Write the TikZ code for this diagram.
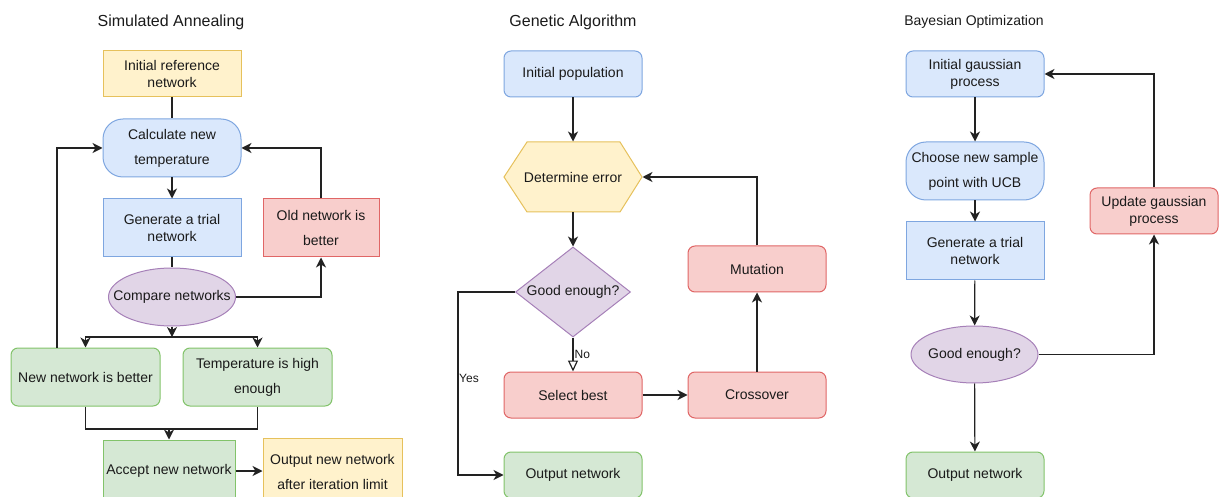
\documentclass[tikz,border=0pt]{standalone}
\usepackage{fontspec}
\setmainfont{Liberation Sans}
\usetikzlibrary{shapes.geometric,arrows.meta}
\definecolor{bluef}{HTML}{DAE8FC}\definecolor{blued}{HTML}{7EA6E0}
\definecolor{yelf}{HTML}{FFF2CC}\definecolor{yeld}{HTML}{E6C15C}
\definecolor{redf}{HTML}{F8CECC}\definecolor{redd}{HTML}{E06666}
\definecolor{grnf}{HTML}{D5E8D4}\definecolor{grnd}{HTML}{82C36A}
\definecolor{purf}{HTML}{E1D5E7}\definecolor{purd}{HTML}{A680B8}
\definecolor{txt}{HTML}{1A1A1A}
\definecolor{ln}{HTML}{222222}
\begin{document}
\begin{tikzpicture}[x=1pt,y=-1pt,
  base/.style={draw, line width=1pt, inner sep=0pt, align=center, text=txt,
    font=\fontsize{14}{17}\selectfont},
  wide/.style={font=\fontsize{14}{25}\selectfont},
  sz/.style 2 args={minimum width=#1, minimum height=#2},
  bluebox/.style={base, fill=bluef, draw=blued},
  yelbox/.style={base, fill=yelf, draw=yeld},
  redbox/.style={base, fill=redf, draw=redd},
  grnbox/.style={base, fill=grnf, draw=grnd},
  purbox/.style={base, fill=purf, draw=purd},
  rr/.style={rounded corners=7pt},
  rrbig/.style={rounded corners=20pt},
  ctext/.style={font=\fontsize{14}{17}\selectfont, text=txt, inner sep=0pt},
  title/.style={font=\fontsize{16}{19}\selectfont, text=txt, inner sep=0pt},
  small/.style={font=\fontsize{12}{14}\selectfont, text=txt, inner sep=0pt},
  conn/.style={draw=ln, line width=1.2pt},
  arr/.style={conn, -{Stealth[length=10pt,width=10pt,inset=3pt]}},
  openarr/.style={conn, -{Triangle[open,length=11pt,width=10pt]}}
]
\clip (0,0) rectangle (1219,497);
\useasboundingbox (0,0) rectangle (1219,497);

% ---------- Simulated Annealing ----------
\node[title] (t1) at (171,22) {Simulated Annealing};
\node[yelbox, sz={138}{46}] (sa1) at (172,74) {Initial reference\\network};
\node[bluebox, rrbig, wide, sz={138}{58}] (sa2) at (172,148) {Calculate new\\temperature};
\node[bluebox, sz={138}{58}] (sa3) at (172,228) {Generate a trial\\network};
\node[redbox, wide, sz={116}{58}] (sa5) at (321,228) {Old network is\\better};
\node[purbox, ellipse, sz={127}{58}, label={[ctext]center:Compare networks}] (sa4) at (172,297) {};
\node[grnbox, rr, sz={149}{58}] (sa6) at (85.5,377) {New network is better};
\node[grnbox, rr, wide, sz={149}{58}] (sa7) at (257.5,377) {Temperature is high\\enough};
\node[grnbox, sz={132}{62}] (sa8) at (169,471) {Accept new network};
\node[yelbox, wide, sz={139}{67}] (sa9) at (332.5,471.5) {Output new network\\after iteration limit};

\draw[conn] (sa1) -- (sa2);
\draw[arr] (sa2) -- (sa3);
\draw[conn] (sa3) -- (sa4);
\draw[arr] (sa4.east) -| (sa5.south);
\draw[arr] (sa5.north) |- (sa2.east);
\coordinate (j1) at (172,337);
\draw[arr] (sa4.south) -- (j1);
\draw[arr] (j1) -| (sa6.north);
\draw[arr] (j1) -| (sa7.north);
\draw[arr] ([xshift=-28.5pt]sa6.north) |- (sa2.west);
\coordinate (j2) at (169,429);
\draw[conn] (sa6.south) |- (j2) -| (sa7.south);
\draw[arr] (j2) -- (sa8.north);
\draw[arr] (sa8.east) -- (sa8.east -| sa9.west);

% ---------- Genetic Algorithm ----------
\node[title] (t2) at (573,22) {Genetic Algorithm};
\node[bluebox, rr, sz={138}{46}] (ga1) at (573,74) {Initial population};
\filldraw[fill=yelf, draw=yeld, line width=1pt] (504,177) -- (527,142) -- (620,142) -- (642,177) -- (620,212) -- (527,212) -- cycle;
\node[base, draw=none, sz={138}{70}] (ga2) at (573,177) {Determine error};
\node[purbox, diamond, sz={115}{90}, label={[ctext]center:Good enough?}] (ga3) at (573,292) {};
\node[redbox, rr, sz={138}{46}] (ga4) at (573,395) {Select best};
\node[redbox, rr, sz={138}{46}] (ga5) at (757,395) {Crossover};
\node[redbox, rr, sz={138}{46}] (ga6) at (757,269) {Mutation};
\node[grnbox, rr, sz={138}{46}] (ga7) at (573,475) {Output network};

\draw[arr] (ga1) -- (ga2.north);
\draw[arr] (ga2.south) -- (ga3.north);
\draw[openarr] (ga3.south) -- (ga4.north) node[small, pos=0.5, right=1pt] {No};
\draw[arr] (ga4) -- (ga5);
\draw[arr] (ga5) -- (ga6);
\draw[arr] (ga6.north) |- (ga2.east);
\coordinate (y1) at (458,292);
\draw[arr] (ga3.west) -- (y1) |- (ga7.west);
\node[small] (yes) at (469,378) {Yes};

% ---------- Bayesian Optimization ----------
\node[font=\fontsize{14}{17}\selectfont, text=txt, inner sep=0pt] (t3) at (974,22) {Bayesian Optimization};
\node[bluebox, rr, sz={138}{46}] (bo1) at (975,74) {Initial gaussian\\process};
\node[bluebox, rrbig, wide, sz={138}{58}] (bo2) at (975,171) {Choose new sample\\point with UCB};
\node[bluebox, sz={138}{58}] (bo3) at (975,251) {Generate a trial\\network};
\node[purbox, ellipse, sz={127}{57}, label={[ctext]center:Good enough?}] (bo4) at (974.5,354.5) {};
\node[grnbox, rr, sz={138}{46}] (bo5) at (975,475) {Output network};
\node[redbox, rr, sz={128}{46}] (bo6) at (1154,211) {Update gaussian\\process};

\draw[arr] (bo1) -- (bo2);
\draw[arr] (bo2) -- (bo3);
\draw[arr] (bo3) -- (bo4);
\draw[arr] (bo4) -- (bo5);
\draw[arr] (bo4.east) -| (bo6.south);
\draw[arr] (bo6.north) |- (bo1.east);
\end{tikzpicture}
\end{document}
